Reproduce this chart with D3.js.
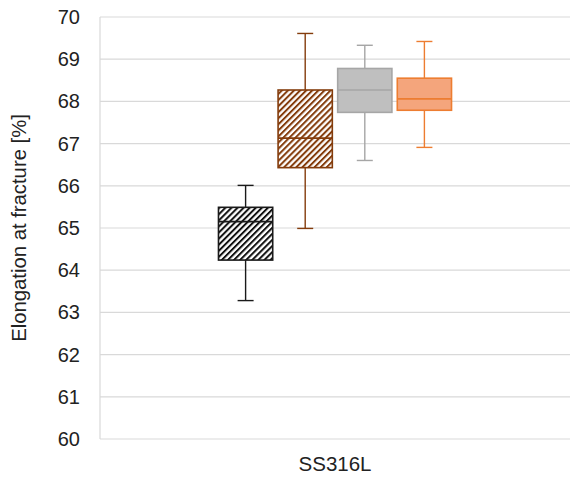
<!DOCTYPE html>
<html><head><meta charset="utf-8">
<script src="https://cdn.jsdelivr.net/npm/d3@7/dist/d3.min.js"></script>
<style>body{margin:0;background:#fff}svg{display:block;font-family:"Liberation Sans",Arial,sans-serif}</style>
</head><body><svg id="c" width="570" height="480"></svg>
<script>
const categories = ["SS316L"];
const seriesNames = ["A", "B", "C", "D"];
const whiskerMin = [63.28, 64.99, 66.60, 66.91];
const q1Values = [64.24, 66.43, 67.74, 67.79];
const medianValues = [65.15, 67.13, 68.27, 68.06];
const q3Values = [65.49, 68.27, 68.78, 68.55];
const whiskerMax = [66.01, 69.61, 69.33, 69.42];
const yTicks = [60, 61, 62, 63, 64, 65, 66, 67, 68, 69, 70];

const styles = [
  {fill: "url(#hatchBlack)", stroke: "#1a1a1a"},
  {fill: "url(#hatchBrown)", stroke: "#843c0c"},
  {fill: "#bfbfbf", stroke: "#a6a6a6"},
  {fill: "#f4a57c", stroke: "#ed7d31"}
];

const svg = d3.select("#c");
const m = {left: 100, right: 0, top: 17, bottom: 41};
const W = 570, H = 480;

const defs = svg.append("defs");
function hatch(id, color) {
  const p = defs.append("pattern").attr("id", id).attr("patternUnits", "userSpaceOnUse")
    .attr("width", 4.3).attr("height", 4.3).attr("patternTransform", "rotate(45)");
  p.append("rect").attr("width", 4.3).attr("height", 4.3).attr("fill", "#fff");
  p.append("rect").attr("x", 0).attr("y", 0).attr("width", 2).attr("height", 4.3).attr("fill", color);
}
hatch("hatchBlack", "#111");
hatch("hatchBrown", "#843c0c");

const y = d3.scaleLinear().domain([60, 70]).range([H - m.bottom, m.top]);
const x = d3.scaleBand().domain(categories).range([m.left, W - m.right]);
const groupWidth = 238.4;
const xs = d3.scaleBand().domain(seriesNames)
  .range([x(categories[0]) + x.bandwidth()/2 - groupWidth/2, x(categories[0]) + x.bandwidth()/2 + groupWidth/2])
  .paddingInner(0.09).paddingOuter(0.045);

// gridlines
svg.append("g").selectAll("line").data(yTicks).join("line")
  .attr("x1", m.left).attr("x2", W - m.right)
  .attr("y1", d => y(d)).attr("y2", d => y(d))
  .attr("stroke", "#d9d9d9").attr("stroke-width", 1.2);
svg.append("line").attr("x1", m.left).attr("x2", m.left).attr("y1", y(70)).attr("y2", y(60))
  .attr("stroke", "#d9d9d9").attr("stroke-width", 1.2);

// y axis
const yAxis = svg.append("g").attr("transform", `translate(${m.left},0)`)
  .call(d3.axisLeft(y).tickValues(yTicks).tickSize(0).tickPadding(20).tickFormat(d3.format("d")));
yAxis.select(".domain").remove();
yAxis.selectAll("text").attr("font-size", 20).attr("fill", "#222").attr("font-family", "Liberation Sans, Arial, sans-serif");

// x axis
const xAxis = svg.append("g").attr("transform", `translate(0,${H - m.bottom})`)
  .call(d3.axisBottom(x).tickSize(0).tickPadding(17));
xAxis.select(".domain").remove();
xAxis.selectAll("text").attr("font-size", 20.5).attr("fill", "#222").attr("font-family", "Liberation Sans, Arial, sans-serif");

// y title
svg.append("text").attr("transform", `translate(26,228) rotate(-90)`)
  .attr("text-anchor", "middle").attr("font-size", 20.3).attr("fill", "#222")
  .text("Elongation at fracture [%]");

// boxes
const g = svg.append("g");
seriesNames.forEach((s, i) => {
  const x0 = xs(s), bw = xs.bandwidth(), cx = x0 + bw/2, st = styles[i];
  const capW = 16;
  g.append("line").attr("x1", cx).attr("x2", cx).attr("y1", y(whiskerMax[i])).attr("y2", y(q3Values[i]))
    .attr("stroke", st.stroke).attr("stroke-width", 1.4);
  g.append("line").attr("x1", cx).attr("x2", cx).attr("y1", y(q1Values[i])).attr("y2", y(whiskerMin[i]))
    .attr("stroke", st.stroke).attr("stroke-width", 1.4);
  [whiskerMax[i], whiskerMin[i]].forEach(v => {
    g.append("line").attr("x1", cx - capW/2).attr("x2", cx + capW/2).attr("y1", y(v)).attr("y2", y(v))
      .attr("stroke", st.stroke).attr("stroke-width", 1.4);
  });
  g.append("rect").attr("x", x0).attr("width", bw).attr("y", y(q3Values[i]))
    .attr("height", y(q1Values[i]) - y(q3Values[i]))
    .attr("fill", st.fill).attr("stroke", st.stroke).attr("stroke-width", 1.6);
  g.append("line").attr("x1", x0).attr("x2", x0 + bw).attr("y1", y(medianValues[i])).attr("y2", y(medianValues[i]))
    .attr("stroke", st.stroke).attr("stroke-width", 1.6);
});
</script></body></html>
